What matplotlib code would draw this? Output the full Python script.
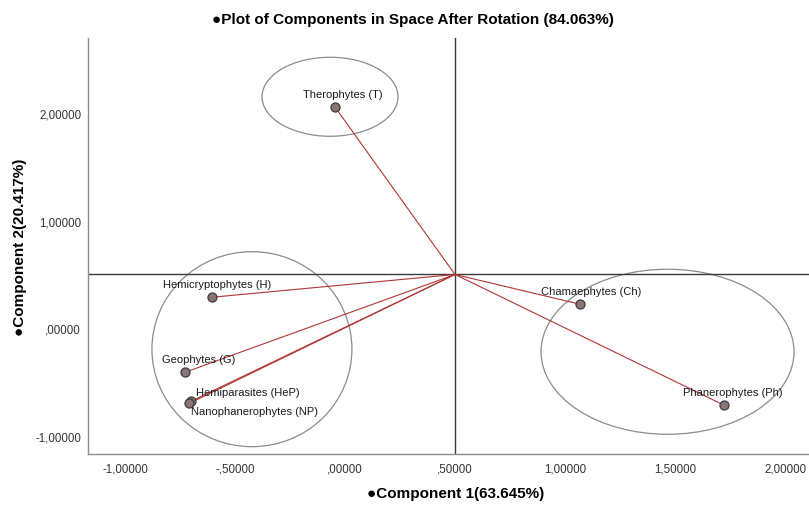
import matplotlib
matplotlib.use("Agg")
import matplotlib.pyplot as plt
from matplotlib.patches import Ellipse
from matplotlib.ticker import FuncFormatter

plt.rcParams['font.family'] = ['Liberation Sans', 'DejaVu Sans']

# component loadings after rotation
names = ["Therophytes (T)", "Hemicryptophytes (H)", "Geophytes (G)",
         "Hemiparasites (HeP)", "Nanophanerophytes (NP)",
         "Chamaephytes (Ch)", "Phanerophytes (Ph)"]
comp1 = [-0.045, -0.605, -0.727, -0.700, -0.709, 1.068, 1.723]
comp2 = [2.056, 0.288, -0.410, -0.680, -0.700, 0.223, -0.716]

# axis crossing point
origin_x = 0.5
origin_y = 0.5

# group ellipses: center x, center y, width, height
ell_x = [-0.068, -0.423, 1.466]
ell_y = [2.153, -0.195, -0.219]
ell_w = [0.618, 0.909, 1.150]
ell_h = [0.735, 1.814, 1.535]

xticks = [-1.0, -0.5, 0.0, 0.5, 1.0, 1.5, 2.0]
yticks = [-1.0, 0.0, 1.0, 2.0]


def spss_fmt(v, pos=None):
    s = "%.5f" % v
    s = s.replace(".", ",")
    if s.startswith("0,"):
        s = s[1:]
    elif s.startswith("-0,"):
        s = "-" + s[2:]
    return s


fig = plt.figure(figsize=(8.09, 5.06), dpi=100)
ax = fig.add_axes([0.1088, 0.1008, 0.8912, 0.8222])

# label offsets in pixels (dx, dy, ha, va)
offsets = [(8, 8, 'center', 'bottom'), (5, 8, 'center', 'bottom'),
           (14, 8, 'center', 'bottom'), (5, 4, 'left', 'bottom'),
           (2, -3, 'left', 'top'), (11, 8, 'center', 'bottom'),
           (9, 8, 'center', 'bottom')]

for i in range(len(names)):
    ax.plot([origin_x, comp1[i]], [origin_y, comp2[i]], color='#b03535', lw=0.8, zorder=2)

ax.plot(comp1, comp2, 'o', ms=6.5, markerfacecolor='#8a7474', markeredgecolor='#3c3c3c',
        markeredgewidth=0.9, zorder=4)

for i in range(len(names)):
    dx, dy, ha, va = offsets[i]
    ax.annotate(names[i], (comp1[i], comp2[i]), xytext=(dx, dy), textcoords='offset pixels',
                ha=ha, va=va, fontsize=8, color='#1a1a1a', zorder=5)

for i in range(len(ell_x)):
    e = Ellipse((ell_x[i], ell_y[i]), ell_w[i], ell_h[i], fill=False,
                edgecolor='#8c8c8c', lw=0.9, zorder=1)
    ax.add_patch(e)

ax.axvline(origin_x, color='#3a3a3a', lw=1.0, zorder=1)
ax.axhline(origin_y, color='#3a3a3a', lw=1.0, zorder=1)

ax.set_xlim(-1.168, 2.109)
ax.set_ylim(-1.17, 2.70)
ax.set_xticks(xticks)
ax.set_yticks(yticks)
ax.xaxis.set_major_formatter(FuncFormatter(spss_fmt))
ax.yaxis.set_major_formatter(FuncFormatter(spss_fmt))
ax.tick_params(length=0, labelsize=8.3, labelcolor='#333333')
ax.tick_params(axis='x', pad=6)
ax.tick_params(axis='y', pad=5)

for side in ['top', 'right']:
    ax.spines[side].set_visible(False)
for side in ['left', 'bottom']:
    ax.spines[side].set_color('#8c8c8c')
    ax.spines[side].set_linewidth(1.0)

ax.set_title("\u25cfPlot of Components in Space After Rotation (84.063%)",
             fontsize=11, fontweight='bold', pad=11, x=0.45)
ax.set_xlabel("\u25cfComponent 1(63.645%)", fontsize=11, fontweight='bold')
ax.set_ylabel("\u25cfComponent 2(20.417%)", fontsize=11, fontweight='bold')
ax.xaxis.set_label_coords(0.51, -0.078)
ax.yaxis.set_label_coords(-0.085, 0.5)

fig.savefig("out.png", dpi=100)
